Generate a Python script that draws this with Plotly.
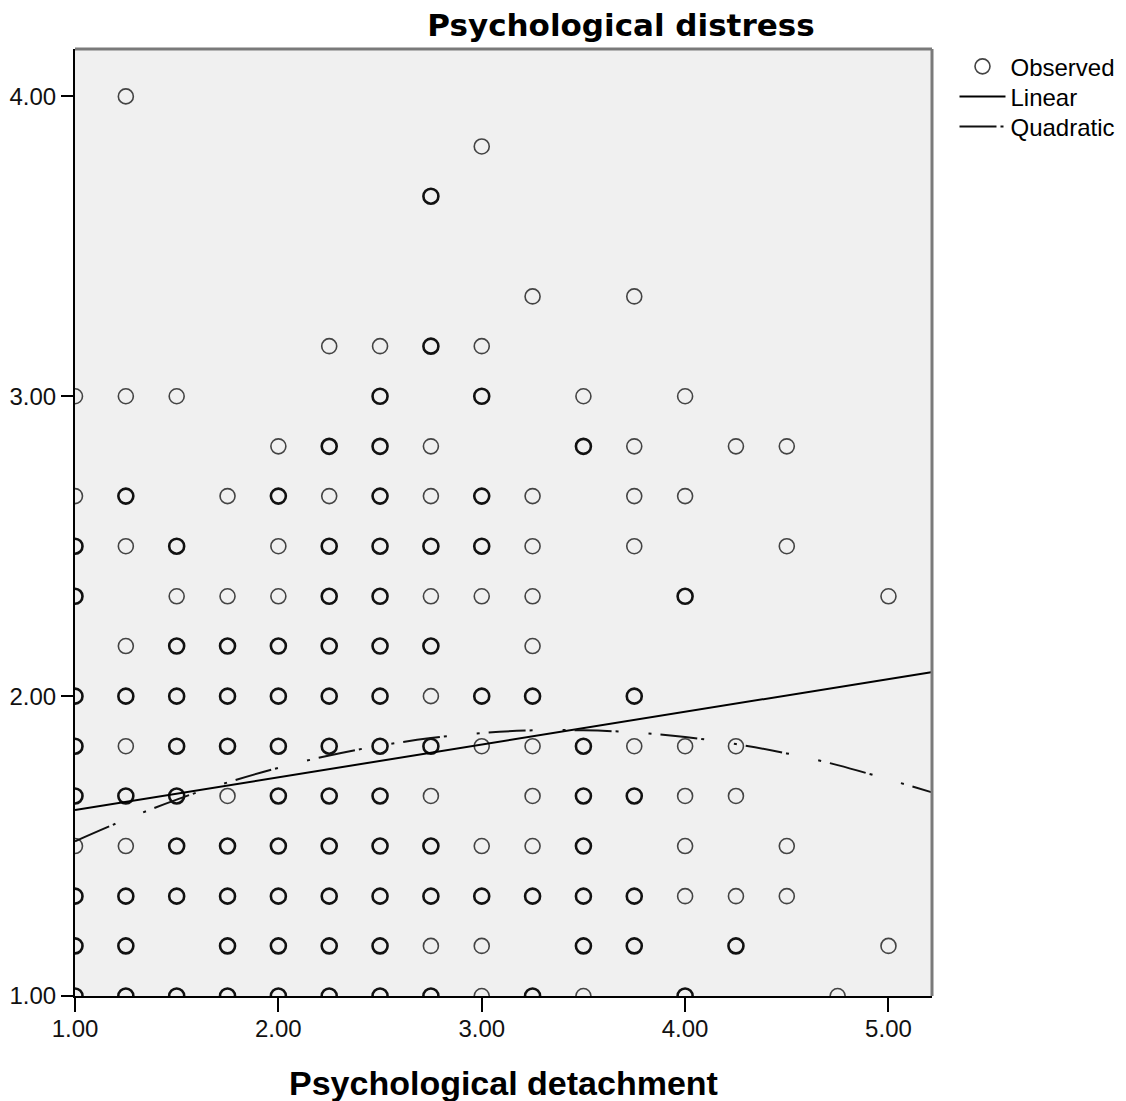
import plotly.graph_objects as go

# Observed cases: psychological detachment (x) vs psychological distress (y)
# obs_multi: 2 = several overlapping cases at this spot (drawn darker), 1 = single case
obs_x = [
    1.0, 1.25, 1.5, 1.75, 2.0, 2.25, 2.5, 2.75, 3.0, 3.25, 3.5, 4.0, 4.75,          # y = 1.00
    1.0, 1.25, 1.75, 2.0, 2.25, 2.5, 2.75, 3.0, 3.5, 3.75, 4.25, 5.0,               # y = 1.17
    1.0, 1.25, 1.5, 1.75, 2.0, 2.25, 2.5, 2.75, 3.0, 3.25, 3.5, 3.75, 4.0, 4.25, 4.5,  # y = 1.33
    1.0, 1.25, 1.5, 1.75, 2.0, 2.25, 2.5, 2.75, 3.0, 3.25, 3.5, 4.0, 4.5,          # y = 1.50
    1.0, 1.25, 1.5, 1.75, 2.0, 2.25, 2.5, 2.75, 3.25, 3.5, 3.75, 4.0, 4.25,        # y = 1.67
    1.0, 1.25, 1.5, 1.75, 2.0, 2.25, 2.5, 2.75, 3.0, 3.25, 3.5, 3.75, 4.0, 4.25,  # y = 1.83
    1.0, 1.25, 1.5, 1.75, 2.0, 2.25, 2.5, 2.75, 3.0, 3.25, 3.75,                   # y = 2.00
    1.25, 1.5, 1.75, 2.0, 2.25, 2.5, 2.75, 3.25,                                   # y = 2.17
    1.0, 1.5, 1.75, 2.0, 2.25, 2.5, 2.75, 3.0, 3.25, 4.0, 5.0,                     # y = 2.33
    1.0, 1.25, 1.5, 2.0, 2.25, 2.5, 2.75, 3.0, 3.25, 3.75, 4.5,                    # y = 2.50
    1.0, 1.25, 1.75, 2.0, 2.25, 2.5, 2.75, 3.0, 3.25, 3.75, 4.0,                   # y = 2.67
    2.0, 2.25, 2.5, 2.75, 3.5, 3.75, 4.25, 4.5,                                    # y = 2.83
    1.0, 1.25, 1.5, 2.5, 3.0, 3.5, 4.0,                                            # y = 3.00
    2.25, 2.5, 2.75, 3.0,                                                          # y = 3.17
    3.25, 3.75,                                                                    # y = 3.33
    2.75,                                                                          # y = 3.67
    3.0,                                                                           # y = 3.83
    1.25,                                                                          # y = 4.00
]
obs_y = (
    [1.0] * 13 + [1.167] * 12 + [1.333] * 15 + [1.5] * 13 + [1.667] * 13
    + [1.833] * 14 + [2.0] * 11 + [2.167] * 8 + [2.333] * 11 + [2.5] * 11
    + [2.667] * 11 + [2.833] * 8 + [3.0] * 7 + [3.167] * 4 + [3.333] * 2
    + [3.667] * 1 + [3.833] * 1 + [4.0] * 1
)
obs_multi = [
    2, 2, 2, 2, 2, 2, 2, 2, 1, 2, 1, 2, 1,
    2, 2, 2, 2, 2, 2, 1, 1, 2, 2, 2, 1,
    2, 2, 2, 2, 2, 2, 2, 2, 2, 2, 2, 2, 1, 1, 1,
    1, 1, 2, 2, 2, 2, 2, 2, 1, 1, 2, 1, 1,
    2, 2, 2, 1, 2, 2, 2, 1, 1, 2, 2, 1, 1,
    2, 1, 2, 2, 2, 2, 2, 2, 1, 1, 2, 1, 1, 1,
    2, 2, 2, 2, 2, 2, 2, 1, 2, 2, 2,
    1, 2, 2, 2, 2, 2, 2, 1,
    2, 1, 1, 1, 2, 2, 1, 1, 1, 2, 1,
    2, 1, 2, 1, 2, 2, 2, 2, 1, 1, 1,
    1, 2, 1, 2, 1, 2, 1, 2, 1, 1, 1,
    1, 2, 2, 1, 2, 1, 1, 1,
    1, 1, 1, 2, 2, 1, 1,
    1, 1, 2, 1,
    1, 1,
    2,
    1,
    1,
]

# Linear fit line (end points)
lin_x = [1.0, 5.21]
lin_y = [1.62, 2.08]

# Quadratic fit curve
quad_x = [1.0, 1.25, 1.5, 1.75, 2.0, 2.25, 2.5, 2.75, 3.0, 3.25, 3.5, 3.75,
          4.0, 4.25, 4.5, 4.75, 5.0, 5.21]
quad_y = [1.516, 1.589, 1.655, 1.712, 1.761, 1.802, 1.835, 1.860, 1.877, 1.886,
          1.886, 1.879, 1.864, 1.840, 1.809, 1.770, 1.722, 1.680]

x_tickvals = [1, 2, 3, 4, 5]
x_ticktext = ["1.00", "2.00", "3.00", "4.00", "5.00"]
y_tickvals = [1, 2, 3, 4]
y_ticktext = ["1.00", "2.00", "3.00", "4.00"]

sx = [x for x, m in zip(obs_x, obs_multi) if m == 1]
sy = [y for y, m in zip(obs_y, obs_multi) if m == 1]
mx = [x for x, m in zip(obs_x, obs_multi) if m > 1]
my = [y for y, m in zip(obs_y, obs_multi) if m > 1]

fig = go.Figure()
fig.add_trace(go.Scatter(
    x=sx, y=sy, mode="markers", name="Observed", legend="legend",
    marker=dict(symbol="circle-open", size=15, color="#444444", line=dict(width=1.6)),
))
fig.add_trace(go.Scatter(
    x=mx, y=my, mode="markers", name="Observed", showlegend=False,
    marker=dict(symbol="circle-open", size=15, color="#111111", line=dict(width=2.6)),
))
fig.add_trace(go.Scatter(
    x=lin_x, y=lin_y, mode="lines", name="Linear", legend="legend2",
    line=dict(color="#000000", width=2),
))
fig.add_trace(go.Scatter(
    x=quad_x, y=quad_y, mode="lines", name="Quadratic", legend="legend3",
    line=dict(color="#111111", width=2, shape="spline",
              dash="37px,4px,3px,30px,3px,9px"),
))

# top and right frame lines (grey)
fig.add_shape(type="line", xref="paper", yref="paper", x0=0, x1=1, y0=1, y1=1,
              line=dict(color="#7a7a7a", width=3))
fig.add_shape(type="line", xref="paper", yref="paper", x0=1, x1=1, y0=0, y1=1,
              line=dict(color="#7a7a7a", width=3))

# x-axis title
fig.add_annotation(
    text="<b>Psychological detachment</b>", xref="paper", yref="paper",
    x=0.5, y=-0.0919, xanchor="center", yanchor="middle", showarrow=False,
    font=dict(family="Liberation Sans, Arial, sans-serif", size=34, color="#000000"),
)

tick_font = dict(family="Liberation Sans, Arial, sans-serif", size=24, color="#111111")
legend_font = dict(family="Liberation Sans, Arial, sans-serif", size=24, color="#000000")
legend_common = dict(xref="container", x=0.8466, xanchor="left", yanchor="top",
                     font=legend_font, bgcolor="rgba(0,0,0,0)", itemwidth=46)

fig.update_layout(
    width=1118, height=1093,
    margin=dict(l=67, r=194, t=41, b=105, autoexpand=False),
    paper_bgcolor="#ffffff",
    plot_bgcolor="#f0f0f0",
    title=dict(
        text="Psychological distress",
        x=0.5483, xref="container", xanchor="center",
        y=0.9844, yref="container", yanchor="middle",
        font=dict(family="DejaVu Sans, sans-serif", size=31, weight="bold", color="#000000"),
    ),
    showlegend=True,
    legend=dict(y=1.005, **legend_common),
    legend2=dict(y=0.9733, **legend_common),
    legend3=dict(y=0.9416, **legend_common),
    xaxis=dict(
        range=[1.0, 5.214], showgrid=False, zeroline=False,
        showline=True, linecolor="#000000", linewidth=2, mirror=False,
        ticks="outside", ticklen=14, tickwidth=1.5, tickcolor="#000000",
        tickvals=x_tickvals, ticktext=x_ticktext, tickfont=tick_font,
        ticklabelstandoff=-4, automargin=False,
    ),
    yaxis=dict(
        range=[1.0, 4.158], showgrid=False, zeroline=False,
        showline=True, linecolor="#000000", linewidth=2, mirror=False,
        ticks="outside", ticklen=12, tickwidth=1.5, tickcolor="#000000",
        tickvals=y_tickvals, ticktext=y_ticktext, tickfont=tick_font,
        automargin=False,
    ),
)

fig.write_html("out.html")
